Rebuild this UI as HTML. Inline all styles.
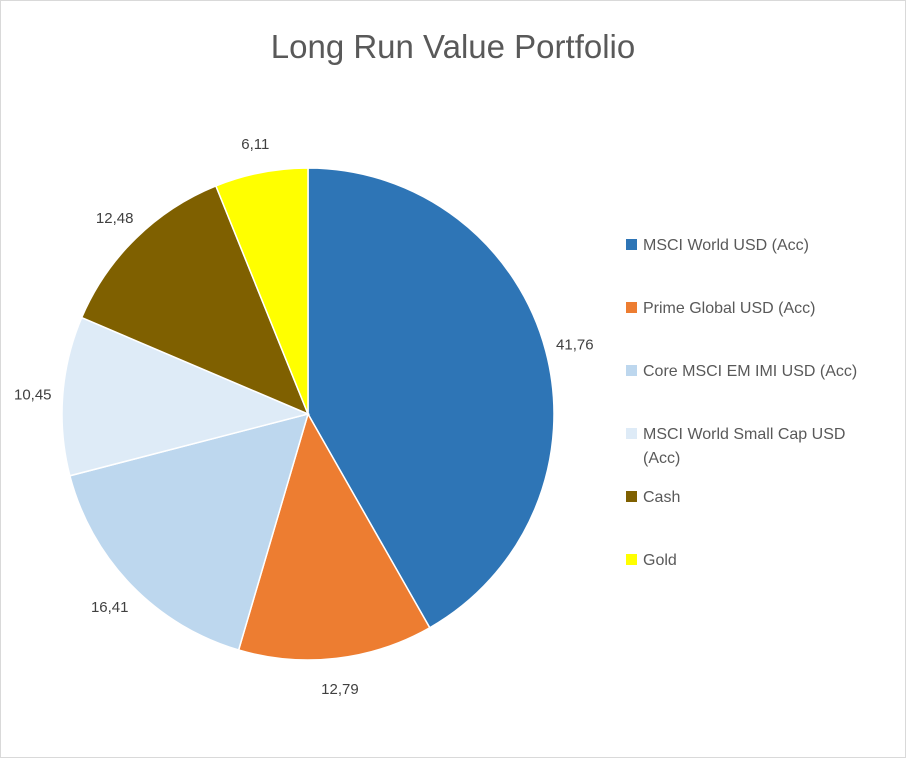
<!DOCTYPE html>
<html><head><meta charset="utf-8"><style>
body{margin:0;background:#fff;}
svg text{font-family:"Liberation Sans",sans-serif;}
</style></head><body>
<svg id="chart" width="906" height="758" viewBox="0 0 906 758">
<rect x="0.5" y="0.5" width="905" height="757" fill="#fff" stroke="#d9d9d9"/>
<text x="453" y="58" text-anchor="middle" font-size="33" fill="#595959">Long Run Value Portfolio</text>
<g id="slices"></g><g id="labels"></g><g id="legend"></g>
</svg>
<script>
const categories=["MSCI World USD (Acc)","Prime Global USD (Acc)","Core MSCI EM IMI USD (Acc)","MSCI World Small Cap USD (Acc)","Cash","Gold"];
const values=[41.76,12.79,16.41,10.45,12.48,6.11];
const valueLabels=["41,76","12,79","16,41","10,45","12,48","6,11"];
const colors=["#2e75b6","#ed7d31","#bdd7ee","#deebf7","#7f6000","#ffff00"];
const NS="http://www.w3.org/2000/svg";
const cx=308,cy=414,r=246,lr=276;
const total=values.reduce((a,b)=>a+b,0);
function pt(a,rad){return [cx+Math.sin(a)*rad, cy-Math.cos(a)*rad];}
let acc=0;
const sl=document.getElementById('slices'),lb=document.getElementById('labels'),lg=document.getElementById('legend');
values.forEach((v,i)=>{
  const a0=acc/total*2*Math.PI; acc+=v; const a1=acc/total*2*Math.PI;
  const p0=pt(a0,r),p1=pt(a1,r);
  const path=document.createElementNS(NS,'path');
  path.setAttribute('d',`M${cx},${cy}L${p0[0]},${p0[1]}A${r},${r} 0 ${a1-a0>Math.PI?1:0} 1 ${p1[0]},${p1[1]}Z`);
  path.setAttribute('fill',colors[i]);path.setAttribute('stroke','#fff');path.setAttribute('stroke-width','1.5');
  
  
  sl.appendChild(path);
  const m=pt((a0+a1)/2,lr);
  const t=document.createElementNS(NS,'text');
  t.setAttribute('x',m[0]);t.setAttribute('y',m[1]+6);t.setAttribute('text-anchor','middle');
  t.setAttribute('font-size','15');t.setAttribute('fill','#404040');t.textContent=valueLabels[i];
  
  
  lb.appendChild(t);
});
const rowY=[244,307,370,433,496,559];
categories.forEach((c,i)=>{
  const g=document.createElementNS(NS,'g');
  
  
  const s=document.createElementNS(NS,'rect');
  s.setAttribute('x',626);s.setAttribute('y',rowY[i]-5);s.setAttribute('width',11);s.setAttribute('height',11);s.setAttribute('fill',colors[i]);
  g.appendChild(s);
  const t=document.createElementNS(NS,'text');
  t.setAttribute('x',643);t.setAttribute('y',rowY[i]+6);t.setAttribute('font-size','16');t.setAttribute('fill','#595959');
  if(c==="MSCI World Small Cap USD (Acc)"){
    t.textContent="MSCI World Small Cap USD";
    const t2=document.createElementNS(NS,'text');
    t2.setAttribute('x',643);t2.setAttribute('y',rowY[i]+30);t2.setAttribute('font-size','16');t2.setAttribute('fill','#595959');
    t2.textContent="(Acc)";g.appendChild(t2);
  } else t.textContent=c;
  g.appendChild(t);
  lg.appendChild(g);
});
</script>
</body></html>
